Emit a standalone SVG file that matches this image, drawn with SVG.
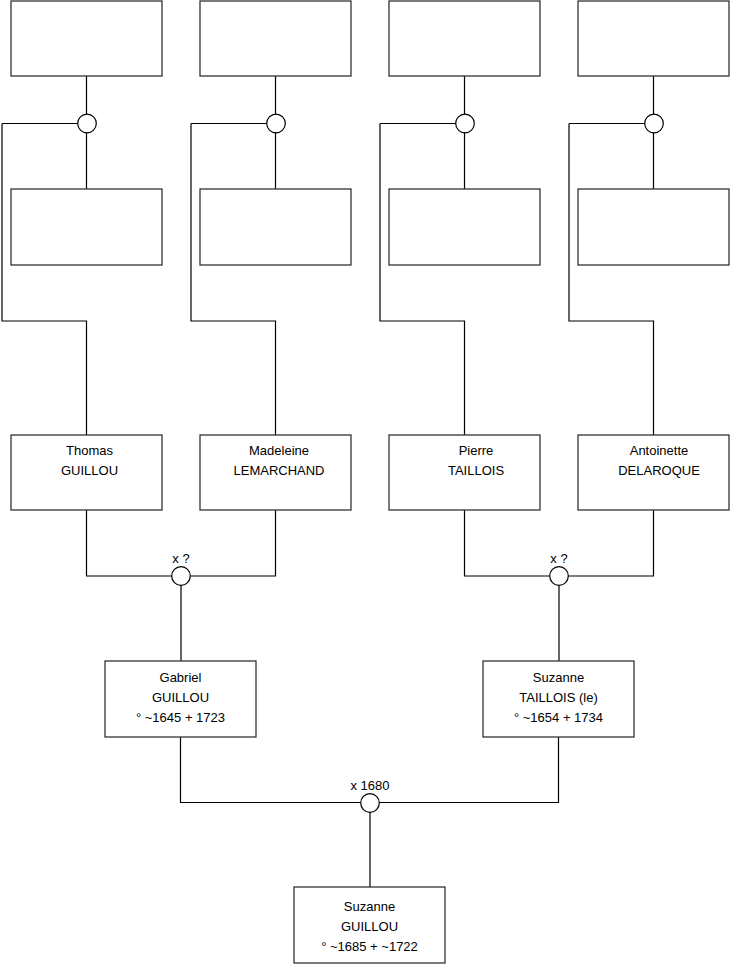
<svg xmlns="http://www.w3.org/2000/svg" width="740" height="975" viewBox="0 0 740 975">
<style>
.box{fill:#fff;stroke:#333;stroke-width:1.3}
.ln{fill:none;stroke:#000;stroke-width:1.2}
.ring{fill:#fff;stroke:#000;stroke-width:1.2}
text{font-family:"Liberation Sans",Arial,sans-serif;font-size:13px;fill:#000;text-anchor:middle}
</style>
<rect width="740" height="975" fill="#fff"/>
<g id="connectors">
<path class="ln" d="M86.5 76V189M2 123.5H78M2 123.5V321H86.5V435"/>
<path class="ln" d="M275.5 76V189M191 123.5H267M191 123.5V321H275.5V435"/>
<path class="ln" d="M464.5 76V189M380 123.5H456M380 123.5V321H464.5V435"/>
<path class="ln" d="M653.5 76V189M569 123.5H645M569 123.5V321H653.5V435"/>
<path class="ln" d="M86.5 510V576H275.5V510M181 576V661"/>
<path class="ln" d="M464.5 510V576H653.5V510M559 576V661"/>
<path class="ln" d="M180.5 737V802.5H558.5V737M370 802.5V887"/>
</g>
<g id="unions">
<circle class="ring" cx="87" cy="123.5" r="9.3"/>
<circle class="ring" cx="276" cy="123.5" r="9.3"/>
<circle class="ring" cx="465" cy="123.5" r="9.3"/>
<circle class="ring" cx="654" cy="123.5" r="9.3"/>
<circle class="ring" cx="181" cy="576" r="9.3"/>
<text x="181" y="563">x ?</text>
<circle class="ring" cx="559" cy="576" r="9.3"/>
<text x="559" y="563">x ?</text>
<circle class="ring" cx="370" cy="803" r="9.3"/>
<text x="370" y="790">x 1680</text>
</g>
<g id="n1"><rect class="box" x="11" y="1" width="151" height="75"/></g>
<g id="n2"><rect class="box" x="200" y="1" width="151" height="75"/></g>
<g id="n3"><rect class="box" x="389" y="1" width="151" height="75"/></g>
<g id="n4"><rect class="box" x="578" y="1" width="151" height="75"/></g>
<g id="n5"><rect class="box" x="11" y="189" width="151" height="76"/></g>
<g id="n6"><rect class="box" x="200" y="189" width="151" height="76"/></g>
<g id="n7"><rect class="box" x="389" y="189" width="151" height="76"/></g>
<g id="n8"><rect class="box" x="578" y="189" width="151" height="76"/></g>
<g id="thomas"><rect class="box" x="11" y="435" width="151" height="75"/><text x="89.5" y="455">Thomas</text><text x="89.5" y="475">GUILLOU</text></g>
<g id="madeleine"><rect class="box" x="200" y="435" width="151" height="75"/><text x="279" y="455">Madeleine</text><text x="279" y="475">LEMARCHAND</text></g>
<g id="pierre"><rect class="box" x="389" y="435" width="151" height="75"/><text x="476" y="455">Pierre</text><text x="476" y="475">TAILLOIS</text></g>
<g id="antoinette"><rect class="box" x="578" y="435" width="151" height="75"/><text x="659" y="455">Antoinette</text><text x="659" y="475">DELAROQUE</text></g>
<g id="gabriel"><rect class="box" x="105" y="661" width="151" height="76"/><text x="180.5" y="682">Gabriel</text><text x="180.5" y="702">GUILLOU</text><text x="180.5" y="722">° ~1645 + 1723</text></g>
<g id="suzanne-t"><rect class="box" x="483" y="661" width="151" height="76"/><text x="558.5" y="682">Suzanne</text><text x="558.5" y="702">TAILLOIS (le)</text><text x="558.5" y="722">° ~1654 + 1734</text></g>
<g id="suzanne-g"><rect class="box" x="294" y="887" width="151" height="76"/><text x="369.5" y="911">Suzanne</text><text x="369.5" y="931">GUILLOU</text><text x="369.5" y="951">° ~1685 + ~1722</text></g>
</svg>
